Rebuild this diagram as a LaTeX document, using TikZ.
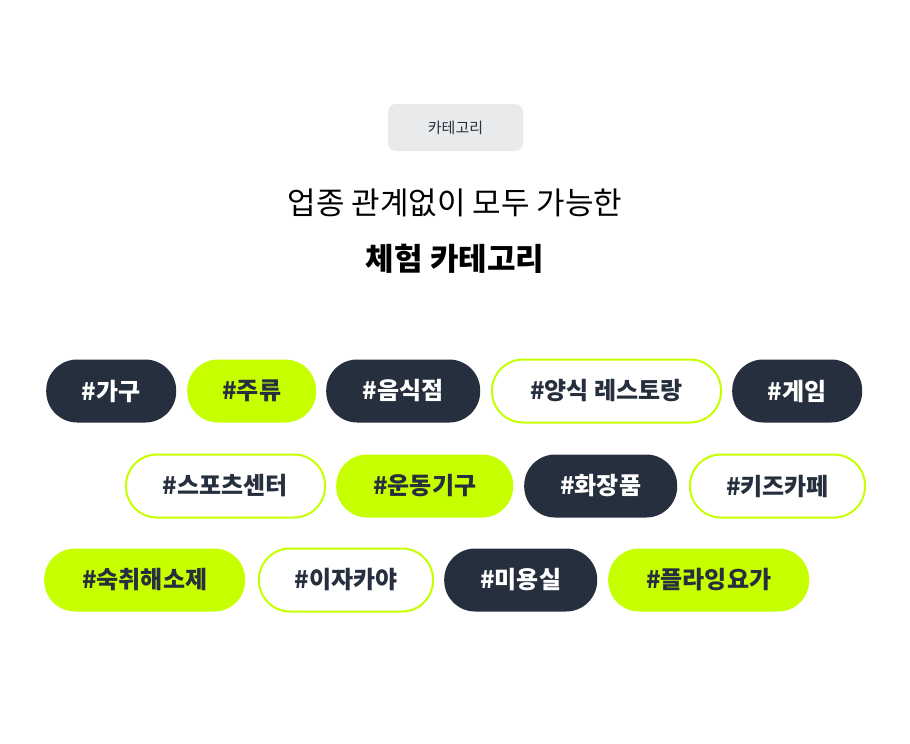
\documentclass[tikz,border=0pt]{standalone}
\usepackage{fontspec}
\setmainfont{Noto Sans CJK KR}
\definecolor{dark}{HTML}{252F3D}
\definecolor{lime}{HTML}{C6FF00}
\definecolor{tagbg}{HTML}{E9EAEC}
\begin{document}
\begin{tikzpicture}[x=1pt,y=-1pt,
  pill/.style={rounded corners=31pt,minimum height=63pt,font=\fontsize{24}{24}\selectfont\bfseries,inner sep=0pt,anchor=west},
  pdark/.style={pill,fill=dark,text=white},
  plime/.style={pill,fill=lime,text=dark},
  pwhite/.style={pill,fill=white,draw=lime,line width=2pt,text=dark}]
\useasboundingbox (0,0) rectangle (910,744);
\fill[white] (0,0) rectangle (910,744);
\node[fill=tagbg,rounded corners=8pt,minimum width=135pt,minimum height=47pt,font=\fontsize{15}{15}\selectfont,text=dark] (tag) at (455.5,127.5) {카테고리};
\node[font=\fontsize{31}{31}\selectfont,text=black] (t1) at (455,203) {업종 관계없이 모두 가능한};
\node[font=\fontsize{31}{31}\selectfont\bfseries,text=black] (t2) at (455,259) {체험 카테고리};
\node[pdark,minimum width=130pt] (a1) at (46,391) {\#가구};
\node[plime,minimum width=129pt] (a2) at (187,391) {\#주류};
\node[pdark,minimum width=154pt] (a3) at (326,391) {\#음식점};
\node[pwhite,minimum width=229pt] (a4) at (491,391) {\#양식 레스토랑};
\node[pdark,minimum width=130pt] (a5) at (732,391) {\#게임};
\node[pwhite,minimum width=199pt] (b1) at (125,486) {\#스포츠센터};
\node[plime,minimum width=177pt] (b2) at (336,486) {\#운동기구};
\node[pdark,minimum width=153pt] (b3) at (524,486) {\#화장품};
\node[pwhite,minimum width=175pt] (b4) at (689,486) {\#키즈카페};
\node[plime,minimum width=201pt] (c1) at (44,580) {\#숙취해소제};
\node[pwhite,minimum width=174pt] (c2) at (258,580) {\#이자카야};
\node[pdark,minimum width=153pt] (c3) at (444,580) {\#미용실};
\node[plime,minimum width=201pt] (c4) at (608,580) {\#플라잉요가};
\end{tikzpicture}
\end{document}
